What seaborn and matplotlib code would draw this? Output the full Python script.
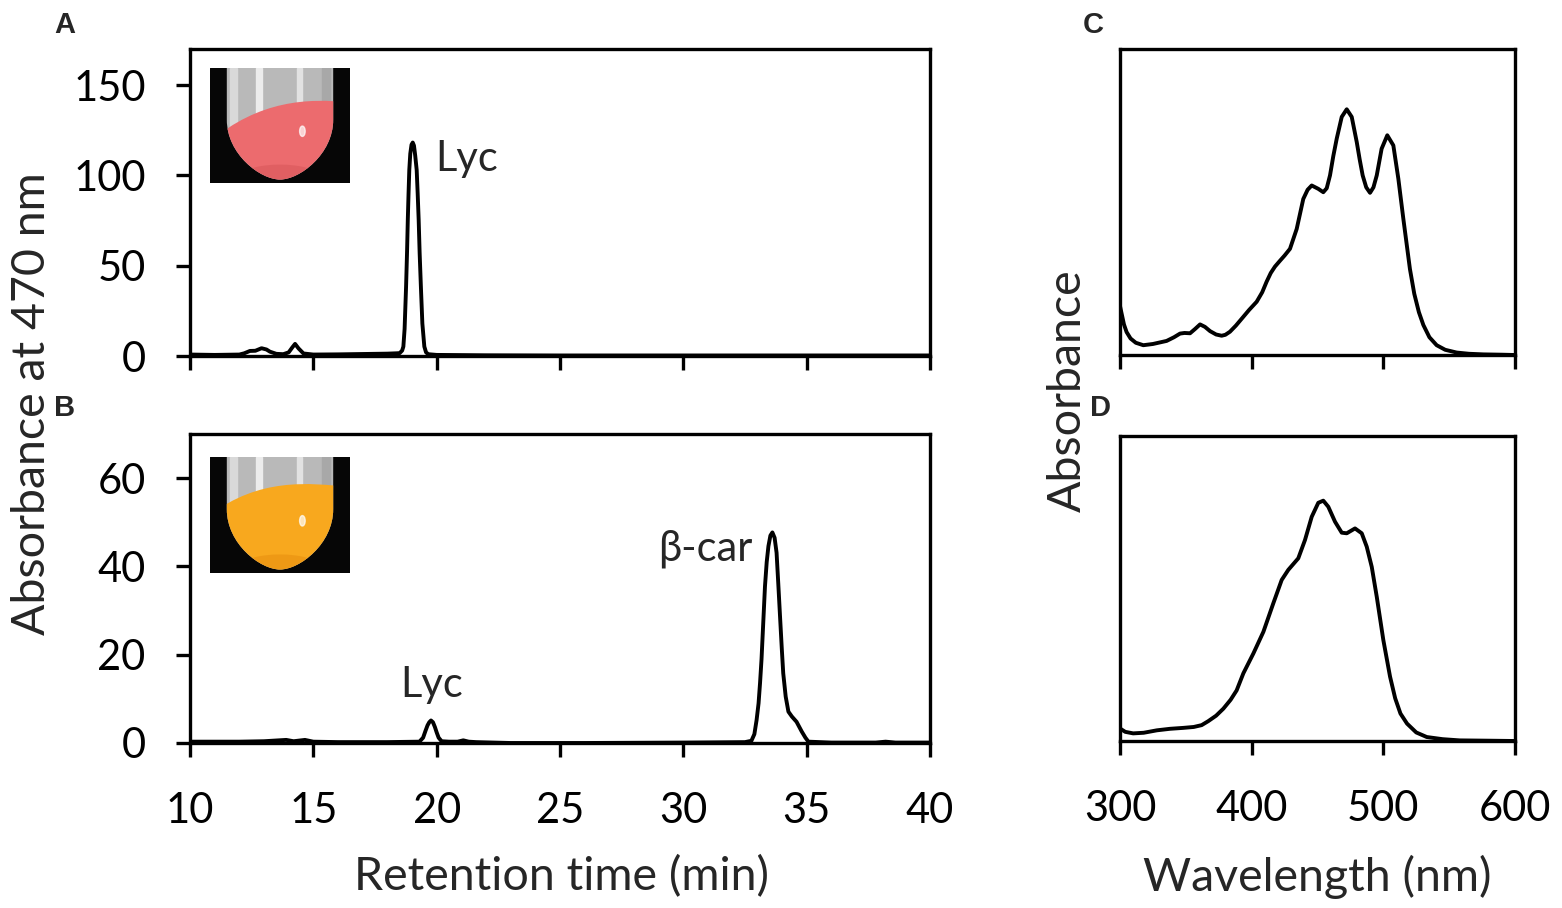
import numpy as np
import pandas as pd
import matplotlib
matplotlib.use("Agg")
import matplotlib.pyplot as plt
from matplotlib.patches import Rectangle, Ellipse, PathPatch
from matplotlib.path import Path
import seaborn as sns

# ---- chromatogram A (retention time, min / absorbance at 470 nm)
time_a = [10, 11, 12, 12.2, 12.43, 12.65, 12.9, 13.1, 13.24, 13.5, 13.78, 14.0, 14.15,
          14.26, 14.4, 14.6, 15.0, 16.0, 17.0, 18.0, 18.38, 18.5, 18.6, 18.65, 18.7,
          18.76, 18.8, 18.83, 18.86, 18.89, 18.93, 18.98, 19.03, 19.08, 19.13, 19.19,
          19.23, 19.27, 19.31, 19.36, 19.42, 19.5, 19.57, 19.66, 20.0, 22, 25, 30, 35, 40]
abs_a = [0.8, 0.6, 0.8, 1.5, 2.8, 2.9, 4.3, 3.6, 2.4, 1.2, 1.0, 2.0, 4.8,
         6.7, 4.2, 1.4, 0.8, 0.9, 1.1, 1.3, 1.5, 1.6, 3.0, 5.2, 15,
         38.5, 58, 75.6, 90, 103, 112, 117, 118.2, 116.5, 111, 103,
         90, 75.6, 57, 38.5, 18, 5.2, 2.0, 1.0, 0.6, 0.4, 0.3, 0.3, 0.3, 0.3]

# ---- chromatogram B
time_b = [10, 12, 13.0, 13.6, 13.9, 14.2, 14.66, 15.0, 16, 18, 19.3, 19.45, 19.55, 19.63,
          19.7, 19.77, 19.85, 19.93, 20.0, 20.08, 20.2, 20.5, 20.85, 21.08, 21.3, 21.6,
          23, 26, 30, 32.5, 32.76, 32.88, 32.97, 33.05, 33.11, 33.17, 33.22, 33.31, 33.38,
          33.45, 33.53, 33.61, 33.7, 33.78, 33.85, 33.92, 33.99, 34.05, 34.15, 34.26,
          34.4, 34.59, 34.8, 34.95, 35.07, 36, 37.8, 38.2, 38.6, 40]
abs_b = [0.3, 0.3, 0.4, 0.6, 0.7, 0.4, 0.7, 0.3, 0.2, 0.2, 0.3, 1.2, 2.8, 4.0,
         4.7, 5.1, 4.7, 3.6, 2.4, 1.2, 0.4, 0.3, 0.3, 0.6, 0.3, 0.2,
         0.0, 0.0, 0.1, 0.2, 0.5, 2.0, 5.2, 9.0, 13.6, 19.0, 24.9, 35.5, 41.0,
         44.6, 47.0, 47.7, 46.5, 43.1, 36.0, 28.7, 21.5, 15.8, 10.5, 7.1,
         6.0, 4.8, 2.6, 1.2, 0.3, 0.1, 0.1, 0.3, 0.1, 0.1]

# ---- absorption spectrum C (lycopene), relative absorbance
wl_c = [300, 301, 303, 305, 308, 312, 317.7, 325, 335.4, 341, 345.6, 349, 353.2, 357,
        360.8, 364.5, 368.4, 373, 377.2, 380, 383.5, 388, 393.7, 398, 403.8, 408, 411.4,
        414.5, 417.7, 421.5, 425, 429.1, 434.2, 439.2, 442.5, 445.6, 450.6, 454.4, 457,
        459.5, 462, 464.6, 468.4, 472.2, 476.0, 479.8, 482, 484.3, 487, 489.9, 492.5,
        495.0, 498.7, 503.0, 507.6, 511.4, 515.2, 520.2, 523.5, 527, 530.4, 535, 540.5,
        547, 555.7, 565, 576, 590, 600]
abs_c = [0.16, 0.14, 0.10, 0.075, 0.054, 0.040, 0.032, 0.036, 0.046, 0.058, 0.070, 0.072,
         0.071, 0.085, 0.100, 0.092, 0.078, 0.067, 0.063, 0.066, 0.076, 0.096, 0.125,
         0.147, 0.174, 0.205, 0.240, 0.268, 0.289, 0.308, 0.325, 0.347, 0.412, 0.510,
         0.540, 0.554, 0.543, 0.532, 0.545, 0.587, 0.650, 0.707, 0.778, 0.803, 0.778,
         0.696, 0.640, 0.587, 0.548, 0.530, 0.548, 0.587, 0.674, 0.718, 0.685, 0.576,
         0.445, 0.281, 0.200, 0.140, 0.098, 0.058, 0.032, 0.017, 0.008, 0.004, 0.002,
         0.001, 0.0]

# ---- absorption spectrum D (beta-carotene), relative absorbance
wl_d = [300, 304, 310, 318, 328, 338, 348, 356, 362, 367, 373, 378.5, 384, 388.6, 393.7,
        401.3, 408.9, 416.4, 422.8, 427.8, 435.4, 440.5, 445.6, 450.6, 454.4, 458.2,
        463.3, 468.4, 472.2, 478.5, 483.6, 487.4, 491.2, 495.0, 500.0, 505.1, 509, 513,
        518, 525, 533, 545, 558, 580, 600]
abs_d = [0.041, 0.030, 0.025, 0.027, 0.035, 0.040, 0.043, 0.046, 0.052, 0.065, 0.083,
         0.106, 0.135, 0.166, 0.222, 0.287, 0.358, 0.451, 0.528, 0.561, 0.599, 0.659,
         0.735, 0.781, 0.788, 0.768, 0.719, 0.683, 0.681, 0.697, 0.681, 0.637, 0.571,
         0.473, 0.331, 0.211, 0.140, 0.090, 0.057, 0.028, 0.013, 0.006, 0.002, 0.001, 0.0]

sns.set_theme(style="ticks")
plt.rcParams['font.family'] = ['Lato', 'DejaVu Sans']
plt.rcParams['axes.linewidth'] = 2.4

W, H = 1562, 908
fig = plt.figure(figsize=(W / 100, H / 100), dpi=100)
fig.patch.set_facecolor('white')


def box(l, t, r, b):
    return [l / W, 1 - b / H, (r - l) / W, (b - t) / H]


ax_a = fig.add_axes(box(190, 49, 930, 356))
ax_b = fig.add_axes(box(190, 434, 930, 743))
ax_c = fig.add_axes(box(1120, 49, 1515, 355))
ax_d = fig.add_axes(box(1120, 436, 1515, 741))

line_kw = dict(color='black', linewidth=2.8, estimator=None, sort=False, legend=False,
               solid_joinstyle='round', solid_capstyle='round')
sns.lineplot(x=time_a, y=abs_a, ax=ax_a, **line_kw)
sns.lineplot(x=time_b, y=abs_b, ax=ax_b, **line_kw)
sns.lineplot(x=wl_c, y=abs_c, ax=ax_c, **line_kw)
sns.lineplot(x=wl_d, y=abs_d, ax=ax_d, **line_kw)

tick_fs = 30
title_fs = 33.5
for ax in (ax_a, ax_b, ax_c, ax_d):
    for s in ax.spines.values():
        s.set_linewidth(2.4)
        s.set_color('black')
    ax.tick_params(direction='out', length=10, width=2.4, labelsize=tick_fs,
                   colors='black')
    ax.tick_params(axis='x', pad=25)
    ax.tick_params(axis='y', pad=22)
    ax.set_facecolor('white')
    ax.set_xlabel('')
    ax.set_ylabel('')

for ax in (ax_a, ax_b):
    ax.set_xlim(10, 40)
    ax.set_xticks([10, 15, 20, 25, 30, 35, 40])
ax_a.set_ylim(0, 170)
ax_a.set_yticks([0, 50, 100, 150])
ax_a.set_xticklabels([])
ax_b.set_ylim(0, 70)
ax_b.set_yticks([0, 20, 40, 60])

for ax in (ax_c, ax_d):
    ax.set_xlim(300, 600)
    ax.set_xticks([300, 400, 500, 600])
    ax.set_ylim(0, 1.0)
    ax.set_yticks([])
ax_c.set_xticklabels([])

# peak labels
ax_a.text(19.95, 109, 'Lyc', fontsize=tick_fs, va='center', ha='left')
ax_b.text(19.8, 13.2, 'Lyc', fontsize=tick_fs, va='center', ha='center')
ax_b.text(32.8, 44, 'β-car', fontsize=tick_fs, va='center', ha='right')

# axis titles
fig.text(32 / W, 1 - 404 / H, 'Absorbance at 470 nm', rotation=90,
         fontsize=title_fs, va='center', ha='center')
fig.text(1068 / W, 1 - 391 / H, 'Absorbance', rotation=90,
         fontsize=title_fs, va='center', ha='center')
fig.text(561 / W, 1 - 877 / H, 'Retention time (min)', fontsize=title_fs,
         va='center', ha='center')
fig.text(1317 / W, 1 - 877 / H, 'Wavelength (nm)', fontsize=title_fs,
         va='center', ha='center')

# panel letters
for lab, (px, py) in {'A': (65, 25), 'B': (65, 408), 'C': (1093, 25), 'D': (1100, 408)}.items():
    fig.text(px / W, 1 - py / H, lab, fontsize=21, fontweight='bold',
             family=['Liberation Sans', 'DejaVu Sans'], va='center', ha='center')


# tube photographs drawn as small insets
def tube_inset(rect, liquid, dark, left_y, mid_y, right_y):
    ins = fig.add_axes(rect)
    ins.set_xlim(0, 1)
    ins.set_ylim(0, 1)
    ins.axis('off')
    ins.add_patch(Rectangle((0, 0), 1, 1, color='#060606'))
    C = Path.CURVE4
    tube_path = Path([(0.12, 1.0), (0.12, 0.55), (0.12, 0.25), (0.36, 0.03), (0.5, 0.03),
                      (0.64, 0.03), (0.88, 0.25), (0.88, 0.55), (0.88, 1.0), (0.12, 1.0)],
                     [Path.MOVETO, Path.LINETO, C, C, C, C, C, C, Path.LINETO, Path.CLOSEPOLY])
    tube = PathPatch(tube_path, facecolor='#b9b9b9', edgecolor='none')
    ins.add_patch(tube)
    for x0, w, c in [(0.14, 0.05, '#d9d9d9'), (0.33, 0.04, '#ececec'),
                     (0.62, 0.04, '#e2e2e2'), (0.8, 0.06, '#a8a8a8')]:
        streak = Rectangle((x0, 0.5), w, 0.5, color=c)
        ins.add_patch(streak)
        streak.set_clip_path(tube)
    liq_path = Path([(0.0, left_y), (0.35, mid_y), (0.7, right_y + 0.04), (1.0, right_y),
                     (1.0, 0.0), (0.0, 0.0), (0.0, left_y)],
                    [Path.MOVETO, C, C, C, Path.LINETO, Path.LINETO, Path.CLOSEPOLY])
    liq = PathPatch(liq_path, facecolor=liquid, edgecolor='none')
    ins.add_patch(liq)
    liq.set_clip_path(tube)
    shade = Ellipse((0.5, 0.08), 0.5, 0.16, facecolor=dark, edgecolor='none', alpha=0.6)
    ins.add_patch(shade)
    shade.set_clip_path(tube)
    ins.add_patch(Ellipse((0.66, 0.45), 0.04, 0.09, color='white', alpha=0.7))
    return ins


tube_inset([210 / W, 1 - 183 / H, 140 / W, 115 / H], '#ec6b6e', '#d9575b', 0.36, 0.72, 0.7)
tube_inset([210 / W, 1 - 573 / H, 140 / W, 116 / H], '#f8a81e', '#e89010', 0.5, 0.82, 0.74)

fig.savefig('out.png', dpi=100, facecolor='white')
